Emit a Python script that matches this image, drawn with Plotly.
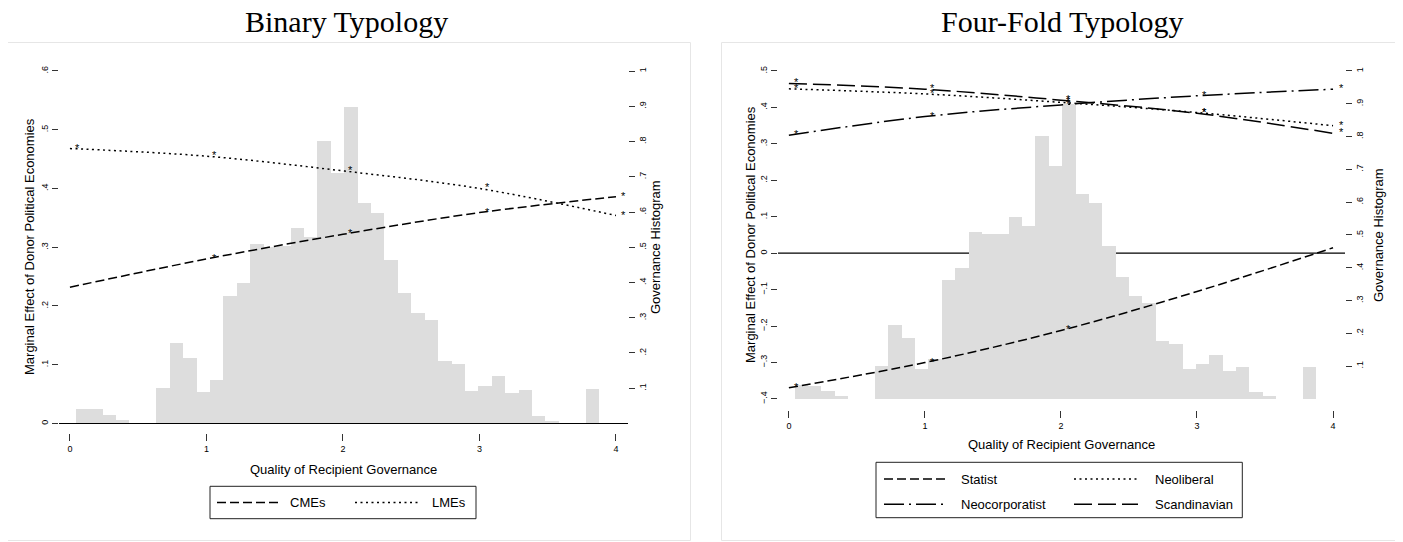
import plotly.graph_objects as go

W, H = 1403, 542

# ---------------- data ----------------
x_points = [0, 1, 2, 3, 4]
x_ticks = [0, 1, 2, 3, 4]
x_ticklabels = ["0", "1", "2", "3", "4"]

# Binary typology
cme_effect = [0.232, 0.280, 0.322, 0.359, 0.386]
lme_effect = [0.468, 0.455, 0.430, 0.400, 0.354]
cme_sig = [0, 1, 1, 1, 1]
lme_sig = [1, 1, 1, 1, 1]

# Four-fold typology
statist_effect = [-0.369, -0.300, -0.212, -0.105, 0.015]
neoliberal_effect = [0.451, 0.437, 0.414, 0.386, 0.350]
neocorp_effect = [0.324, 0.375, 0.407, 0.432, 0.450]
scandinavian_effect = [0.466, 0.450, 0.420, 0.384, 0.329]
statist_sig = [1, 1, 1, 0, 0]
neoliberal_sig = [1, 1, 1, 1, 1]
neocorp_sig = [1, 1, 1, 1, 1]
scandinavian_sig = [1, 1, 1, 1, 1]

# Governance histogram (density per bin)
hist_start = 0.043
hist_width = 0.0983
hist_density = [0.042, 0.040, 0.025, 0.009, 0.0, 0.0, 0.100, 0.227, 0.186, 0.090,
                0.122, 0.363, 0.399, 0.508, 0.502, 0.503, 0.555, 0.528, 0.802, 0.710,
                0.899, 0.626, 0.598, 0.465, 0.371, 0.314, 0.293, 0.177, 0.168, 0.091,
                0.106, 0.134, 0.086, 0.096, 0.020, 0.008, 0.0, 0.0, 0.099]
hist_centers = [hist_start + hist_width * (i + 0.5) for i in range(len(hist_density))]

left_eff_ticks = [0, 0.1, 0.2, 0.3, 0.4, 0.5, 0.6]
left_eff_labels = ["0", ".1", ".2", ".3", ".4", ".5", ".6"]
right_eff_ticks = [-0.4, -0.3, -0.2, -0.1, 0, 0.1, 0.2, 0.3, 0.4, 0.5]
right_eff_labels = ["\u2212.4", "\u2212.3", "\u2212.2", "\u2212.1", "0", ".1", ".2", ".3", ".4", ".5"]
hist_ticks = [0.1, 0.2, 0.3, 0.4, 0.5, 0.6, 0.7, 0.8, 0.9, 1.0]
hist_labels = [".1", ".2", ".3", ".4", ".5", ".6", ".7", ".8", ".9", "1"]

# ---------------- style ----------------
SANS = "Liberation Sans, Arial, Helvetica, sans-serif"
SERIF = "Liberation Serif, Times New Roman, serif"
BAR = "#dddddd"
DASH = "9px,4px"
DOT = "2px,3.5px"
DASHDOT = "20px,5px,2px,5px"
LONGDASH = "18px,6px"
LW = 1.5
OFF = 8  # the page body has a default 8px margin


def PX(v):
    return (v - OFF) / W


def PY(v):
    return 1 - (v - OFF) / H


fig = go.Figure()

# left panel
fig.add_trace(go.Bar(x=hist_centers, y=hist_density, width=hist_width,
                     marker=dict(color=BAR, line=dict(width=0)),
                     xaxis="x", yaxis="y", showlegend=False, hoverinfo="skip"))
fig.add_trace(go.Scatter(x=x_points, y=cme_effect, mode="lines", line_shape="spline",
                         line=dict(color="black", width=LW, dash=DASH),
                         xaxis="x", yaxis="y2", name="CMEs", showlegend=False))
fig.add_trace(go.Scatter(x=x_points, y=lme_effect, mode="lines", line_shape="spline",
                         line=dict(color="black", width=LW, dash=DOT),
                         xaxis="x", yaxis="y2", name="LMEs", showlegend=False))

# right panel
fig.add_trace(go.Bar(x=hist_centers, y=hist_density, width=hist_width,
                     marker=dict(color=BAR, line=dict(width=0)),
                     xaxis="x2", yaxis="y3", showlegend=False, hoverinfo="skip"))
right_series = [
    ("Statist", statist_effect, DASH, statist_sig),
    ("Neoliberal", neoliberal_effect, DOT, neoliberal_sig),
    ("Neocorporatist", neocorp_effect, DASHDOT, neocorp_sig),
    ("Scandinavian", scandinavian_effect, LONGDASH, scandinavian_sig),
]
for name, vals, dash, sig in right_series:
    fig.add_trace(go.Scatter(x=x_points, y=vals, mode="lines", line_shape="spline",
                             line=dict(color="black", width=LW, dash=dash),
                             xaxis="x2", yaxis="y4", name=name, showlegend=False))

annotations = []
shapes = []

# significance stars
for vals, sig, xr, yr in [(cme_effect, cme_sig, "x", "y2"), (lme_effect, lme_sig, "x", "y2"),
                          (statist_effect, statist_sig, "x2", "y4"),
                          (neoliberal_effect, neoliberal_sig, "x2", "y4"),
                          (neocorp_effect, neocorp_sig, "x2", "y4"),
                          (scandinavian_effect, scandinavian_sig, "x2", "y4")]:
    for xv, yv, s in zip(x_points, vals, sig):
        if s:
            annotations.append(dict(x=xv, y=yv, xref=xr, yref=yr, text="*", showarrow=False,
                                    xshift=8, yshift=1, font=dict(family=SANS, size=11, color="black")))

# zero lines
for yr, xr in [("y2", "x domain"), ("y4", "x2 domain")]:
    shapes.append(dict(type="line", xref=xr, x0=0, x1=1, yref=yr, y0=0, y1=0,
                       line=dict(color="black", width=1.2), layer="below"))

# panel frames
shapes.append(dict(type="rect", xref="paper", yref="paper", x0=PX(3.5), x1=PX(690.5),
                   y0=PY(540.5), y1=PY(42.5), line=dict(color="#e6e6e6", width=1), layer="below"))
shapes.append(dict(type="rect", xref="paper", yref="paper", x0=PX(721.5), x1=PX(1420),
                   y0=PY(540.5), y1=PY(42.5), line=dict(color="#e6e6e6", width=1), layer="below"))

# titles
annotations.append(dict(text="Binary Typology", x=PX(346.7), y=PY(21.5), xref="paper", yref="paper",
                        showarrow=False, xanchor="center", yanchor="middle",
                        font=dict(family=SERIF, size=30, color="black")))
annotations.append(dict(text="Four-Fold Typology", x=PX(1062.7), y=PY(21.5), xref="paper", yref="paper",
                        showarrow=False, xanchor="center", yanchor="middle",
                        font=dict(family=SERIF, size=30, color="black")))

# axis titles
TF = dict(family=SANS, size=13, color="black")
for txt, xp, yp, ang in [
    ("Marginal Effect of Donor Political Economies", 29, 247, -90),
    ("Governance Histogram", 655, 247, -90),
    ("Quality of Recipient Governance", 343, 469, 0),
    ("Marginal Effect of Donor Political Economies", 750, 235, -90),
    ("Governance Histogram", 1378, 235, -90),
    ("Quality of Recipient Governance", 1061, 444, 0),
]:
    annotations.append(dict(text=txt, x=PX(xp), y=PY(yp), xref="paper", yref="paper", showarrow=False,
                            xanchor="center", yanchor="middle", textangle=ang, font=TF))


# legends (drawn manually)
def legend_box(x0, y0, x1, y1):
    shapes.append(dict(type="rect", xref="paper", yref="paper", x0=PX(x0), x1=PX(x1),
                       y0=PY(y1), y1=PY(y0), line=dict(color="#222222", width=1), fillcolor="white"))


def legend_item(sx0, sx1, yv, dash, label, tx):
    shapes.append(dict(type="line", xref="paper", yref="paper", x0=PX(sx0), x1=PX(sx1),
                       y0=PY(yv), y1=PY(yv), line=dict(color="black", width=1.6, dash=dash)))
    annotations.append(dict(text=label, x=PX(tx), y=PY(yv), xref="paper", yref="paper",
                            showarrow=False, xanchor="left", yanchor="middle", font=TF))


legend_box(210, 486.3, 476, 518.7)
legend_item(217, 282, 502.5, DASH, "CMEs", 288)
legend_item(355, 418, 502.5, DOT, "LMEs", 430)

legend_box(876, 462.3, 1242.3, 517.7)
legend_item(884, 948, 479, DASH, "Statist", 959)
legend_item(1074, 1138, 479, DOT, "Neoliberal", 1153)
legend_item(884, 948, 504.3, DASHDOT, "Neocorporatist", 959)
legend_item(1074, 1138, 504.3, LONGDASH, "Scandinavian", 1153)

tickfont = dict(family=SANS, size=9, color="black")
common_x = dict(range=[-0.08, 4.088], tickvals=x_ticks, ticktext=x_ticklabels, ticks="outside",
                ticklen=7, tickcolor="#333333", tickwidth=1, showline=False, showgrid=False,
                zeroline=False, tickfont=tickfont, fixedrange=True)
common_y = dict(ticks="outside", ticklen=6, tickcolor="#333333", tickwidth=1, showline=False,
                showgrid=False, zeroline=False, tickfont=tickfont, tickangle=-90, fixedrange=True)

fig.update_layout(
    width=W, height=H, margin=dict(l=0, r=0, t=0, b=0),
    paper_bgcolor="white", plot_bgcolor="rgba(0,0,0,0)",
    showlegend=False, bargap=0,
    xaxis=dict(domain=[PX(59), PX(628)], anchor="y", **common_x),
    yaxis=dict(domain=[PY(433), PY(66)], anchor="x", side="right", range=[-0.027, 1.0142],
               tickvals=hist_ticks, ticktext=hist_labels, **common_y),
    yaxis2=dict(overlaying="y", anchor="x", side="left", range=[-0.0162, 0.6085],
                tickvals=left_eff_ticks, ticktext=left_eff_labels, **common_y),
    xaxis2=dict(domain=[PX(778), PX(1345)], anchor="y3", **common_x),
    yaxis3=dict(domain=[PY(410), PY(66)], anchor="x2", side="right", range=[-0.0336, 1.0152],
                tickvals=hist_ticks, ticktext=hist_labels, **common_y),
    yaxis4=dict(overlaying="y3", anchor="x2", side="left", range=[-0.4302, 0.5137],
                tickvals=right_eff_ticks, ticktext=right_eff_labels, **common_y),
    annotations=annotations,
    shapes=shapes,
)

fig.write_html("out.html")
